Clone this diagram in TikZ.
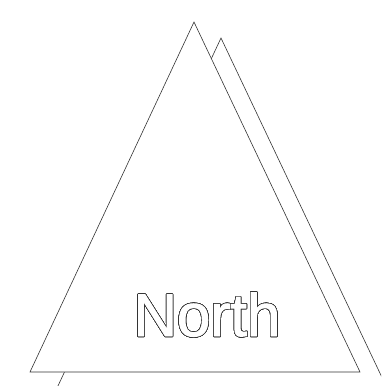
\documentclass[tikz,border=0pt]{standalone}
\usepackage{fontspec}
\setmainfont{Liberation Sans}
\newfontfamily\signfont[FakeBold=1.6]{Liberation Sans}
\usepackage{xcolor}
\usepackage[copies]{contour}
\contourlength{0.6pt}
\contournumber{32}
\begin{document}
\begin{tikzpicture}[x=1pt, y=-1pt,
    tri/.style={draw=black!80, line width=0.6pt},
    northtext/.style={font=\signfont\fontsize{60}{60}\selectfont, anchor=base, inner sep=0pt}
]
    \useasboundingbox (0,0) rectangle (381,386);
    \clip (0,0) rectangle (381,386);

    % shadow triangle, shifted down and to the right
    \draw[tri, shift={(27,16)}] (194,22) -- (360,372) -- (30,372) -- cycle;

    % front triangle
    \coordinate (apex) at (194,22);
    \coordinate (baseright) at (360,372);
    \coordinate (baseleft) at (30,372);
    \draw[tri, fill=white] (apex) -- (baseright) -- (baseleft) -- cycle;

    \node[northtext] (north) at (207,336) {\contour{black!80}{\textcolor{white}{North}}};
\end{tikzpicture}
\end{document}
